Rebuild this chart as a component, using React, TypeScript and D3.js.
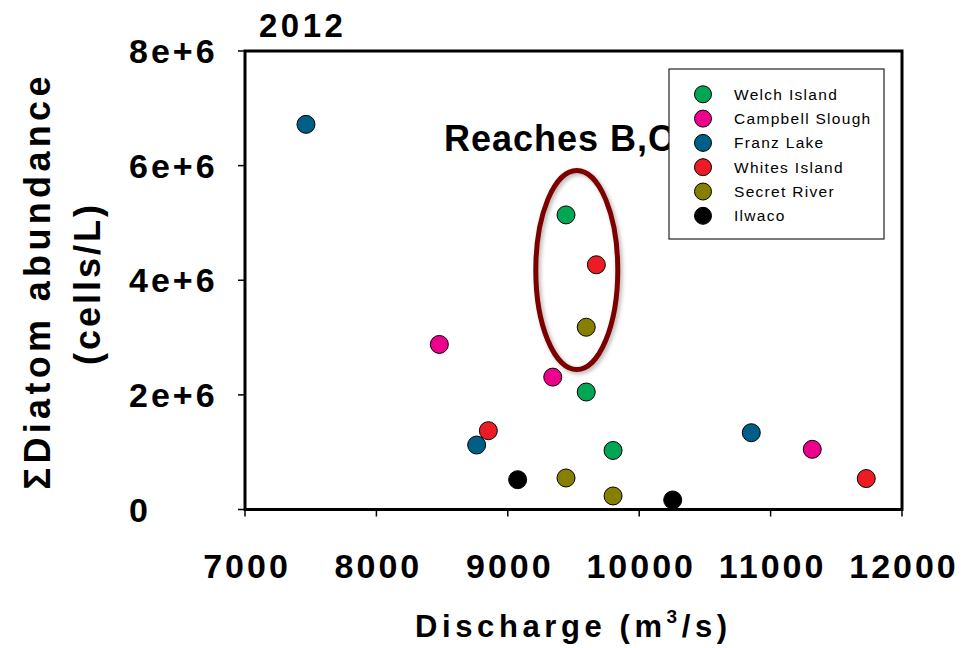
import React from "react";
import * as d3 from "d3";

const W = 967;
const H = 648;

const sites = ["Welch Island", "Campbell Slough", "Franz Lake", "Whites Island", "Secret River", "Ilwaco"];
const siteColors = ["#00a651", "#ec008c", "#005f86", "#ed1c24", "#877f00", "#000000"];

const welchDischarge = [9443, 9597, 9801];
const welchAbundance = [5.14e6, 2.05e6, 1.03e6];
const campbellDischarge = [8479, 9342, 11317];
const campbellAbundance = [2.88e6, 2.31e6, 1.05e6];
const franzDischarge = [7464, 8763, 10853];
const franzAbundance = [6.72e6, 1.125e6, 1.34e6];
const whitesDischarge = [9674, 8852, 11728];
const whitesAbundance = [4.27e6, 1.375e6, 0.54e6];
const secretDischarge = [9597, 9443, 9801];
const secretAbundance = [3.18e6, 0.55e6, 0.236e6];
const ilwacoDischarge = [9075, 10255];
const ilwacoAbundance = [0.52e6, 0.166e6];

const xTicks = [7000, 8000, 9000, 10000, 11000, 12000];
const xTickLabels = ["7000", "8000", "9000", "10000", "11000", "12000"];
const yTicks = [0, 2e6, 4e6, 6e6, 8e6];
const yTickLabels = ["0", "2e+6", "4e+6", "6e+6", "8e+6"];

const highlightCenter = [9525, 4.18e6];
const highlightRadii = [312, 1.736e6];

const FONT = "'Liberation Sans', Arial, Helvetica, sans-serif";

export default function App() {
  const x = d3.scaleLinear().domain([7000, 12000]).range([245, 902]);
  const y = d3.scaleLinear().domain([0, 8e6]).range([509.5, 51]);

  const seriesX = [welchDischarge, campbellDischarge, franzDischarge, whitesDischarge, secretDischarge, ilwacoDischarge];
  const seriesY = [welchAbundance, campbellAbundance, franzAbundance, whitesAbundance, secretAbundance, ilwacoAbundance];

  const cx = x(highlightCenter[0]);
  const cy = y(highlightCenter[1]);
  const rx = x(highlightCenter[0] + highlightRadii[0]) - cx;
  const ry = cy - y(highlightCenter[1] + highlightRadii[1]);

  const legendX = 669;
  const legendY = 69;
  const rowH = 24.3;

  return (
    <svg width={W} height={H} style={{ position: "absolute", left: 0, top: 0, background: "#fff" }} fontFamily={FONT}>
      <defs>
        <filter id="shadow" x="-30%" y="-30%" width="160%" height="160%">
          <feGaussianBlur in="SourceAlpha" stdDeviation="2" />
          <feOffset dx="2" dy="2" result="b" />
          <feComponentTransfer><feFuncA type="linear" slope="0.3" /></feComponentTransfer>
          <feMerge><feMergeNode /><feMergeNode in="SourceGraphic" /></feMerge>
        </filter>
      </defs>

      {/* title */}
      <text x={259} y={37} fontSize={33} fontWeight="bold" letterSpacing={3.5}>2012</text>

      {/* ticks */}
      {xTicks.map((t) => (
        <line key={"xt" + t} x1={x(t)} x2={x(t)} y1={y(0)} y2={y(0) + 7} stroke="#000" strokeWidth={1.5} />
      ))}
      {yTicks.map((t) => (
        <line key={"yt" + t} x1={x(7000) - 7} x2={x(7000)} y1={y(t)} y2={y(t)} stroke="#000" strokeWidth={1.5} />
      ))}
      {xTicks.map((t, i) => (
        <text key={"xl" + t} x={x(t) + 2} y={578} textAnchor="middle" fontSize={34} fontWeight="bold" letterSpacing={3}>
          {xTickLabels[i]}
        </text>
      ))}
      {yTicks.map((t, i) => (
        <text key={"yl" + t} x={129} y={y(t) + 12} textAnchor="start" fontSize={34} fontWeight="bold" letterSpacing={3}>
          {yTickLabels[i]}
        </text>
      ))}

      {/* axis titles */}
      <text x={415} y={637} fontSize={31} fontWeight="bold" letterSpacing={4.6}>
        Discharge (m<tspan fontSize={19} dy={-14}>3</tspan><tspan dy={14}>/s)</tspan>
      </text>
      <text transform="translate(50,283) rotate(-90)" textAnchor="middle" fontSize={36} fontWeight="bold" textLength={413} lengthAdjust="spacing">
        ΣDiatom abundance
      </text>
      <text transform="translate(100,285) rotate(-90)" textAnchor="middle" fontSize={36} fontWeight="bold" textLength={160} lengthAdjust="spacing">
        (cells/L)
      </text>

      {/* annotation text */}
      <text x={444} y={151} fontSize={36} fontWeight="bold" letterSpacing={1}>Reaches B,C</text>

      {/* highlight ellipse */}
      <ellipse cx={cx} cy={cy} rx={rx} ry={ry} fill="none" stroke="#7d0000" strokeWidth={5} filter="url(#shadow)" />

      {/* points */}
      {seriesX.map((xs, s) =>
        xs.map((v, i) => (
          <circle key={s + "-" + i} cx={x(v)} cy={y(seriesY[s][i])} r={9} fill={siteColors[s]} stroke="#000" strokeWidth={1} />
        ))
      )}

      {/* frame */}
      <rect x={x(7000)} y={y(8e6)} width={x(12000) - x(7000)} height={y(0) - y(8e6)} fill="none" stroke="#000" strokeWidth={3} />

      {/* legend */}
      <rect x={legendX} y={legendY} width={215} height={170} fill="#fff" stroke="#222" strokeWidth={1.2} />
      {sites.map((s, i) => (
        <g key={s}>
          <circle cx={703} cy={94.3 + i * rowH} r={8.5} fill={siteColors[i]} stroke="#000" strokeWidth={1} />
          <text x={734} y={94.3 + i * rowH + 5.5} fontSize={15.5} letterSpacing={1.3}>{s}</text>
        </g>
      ))}
    </svg>
  );
}
